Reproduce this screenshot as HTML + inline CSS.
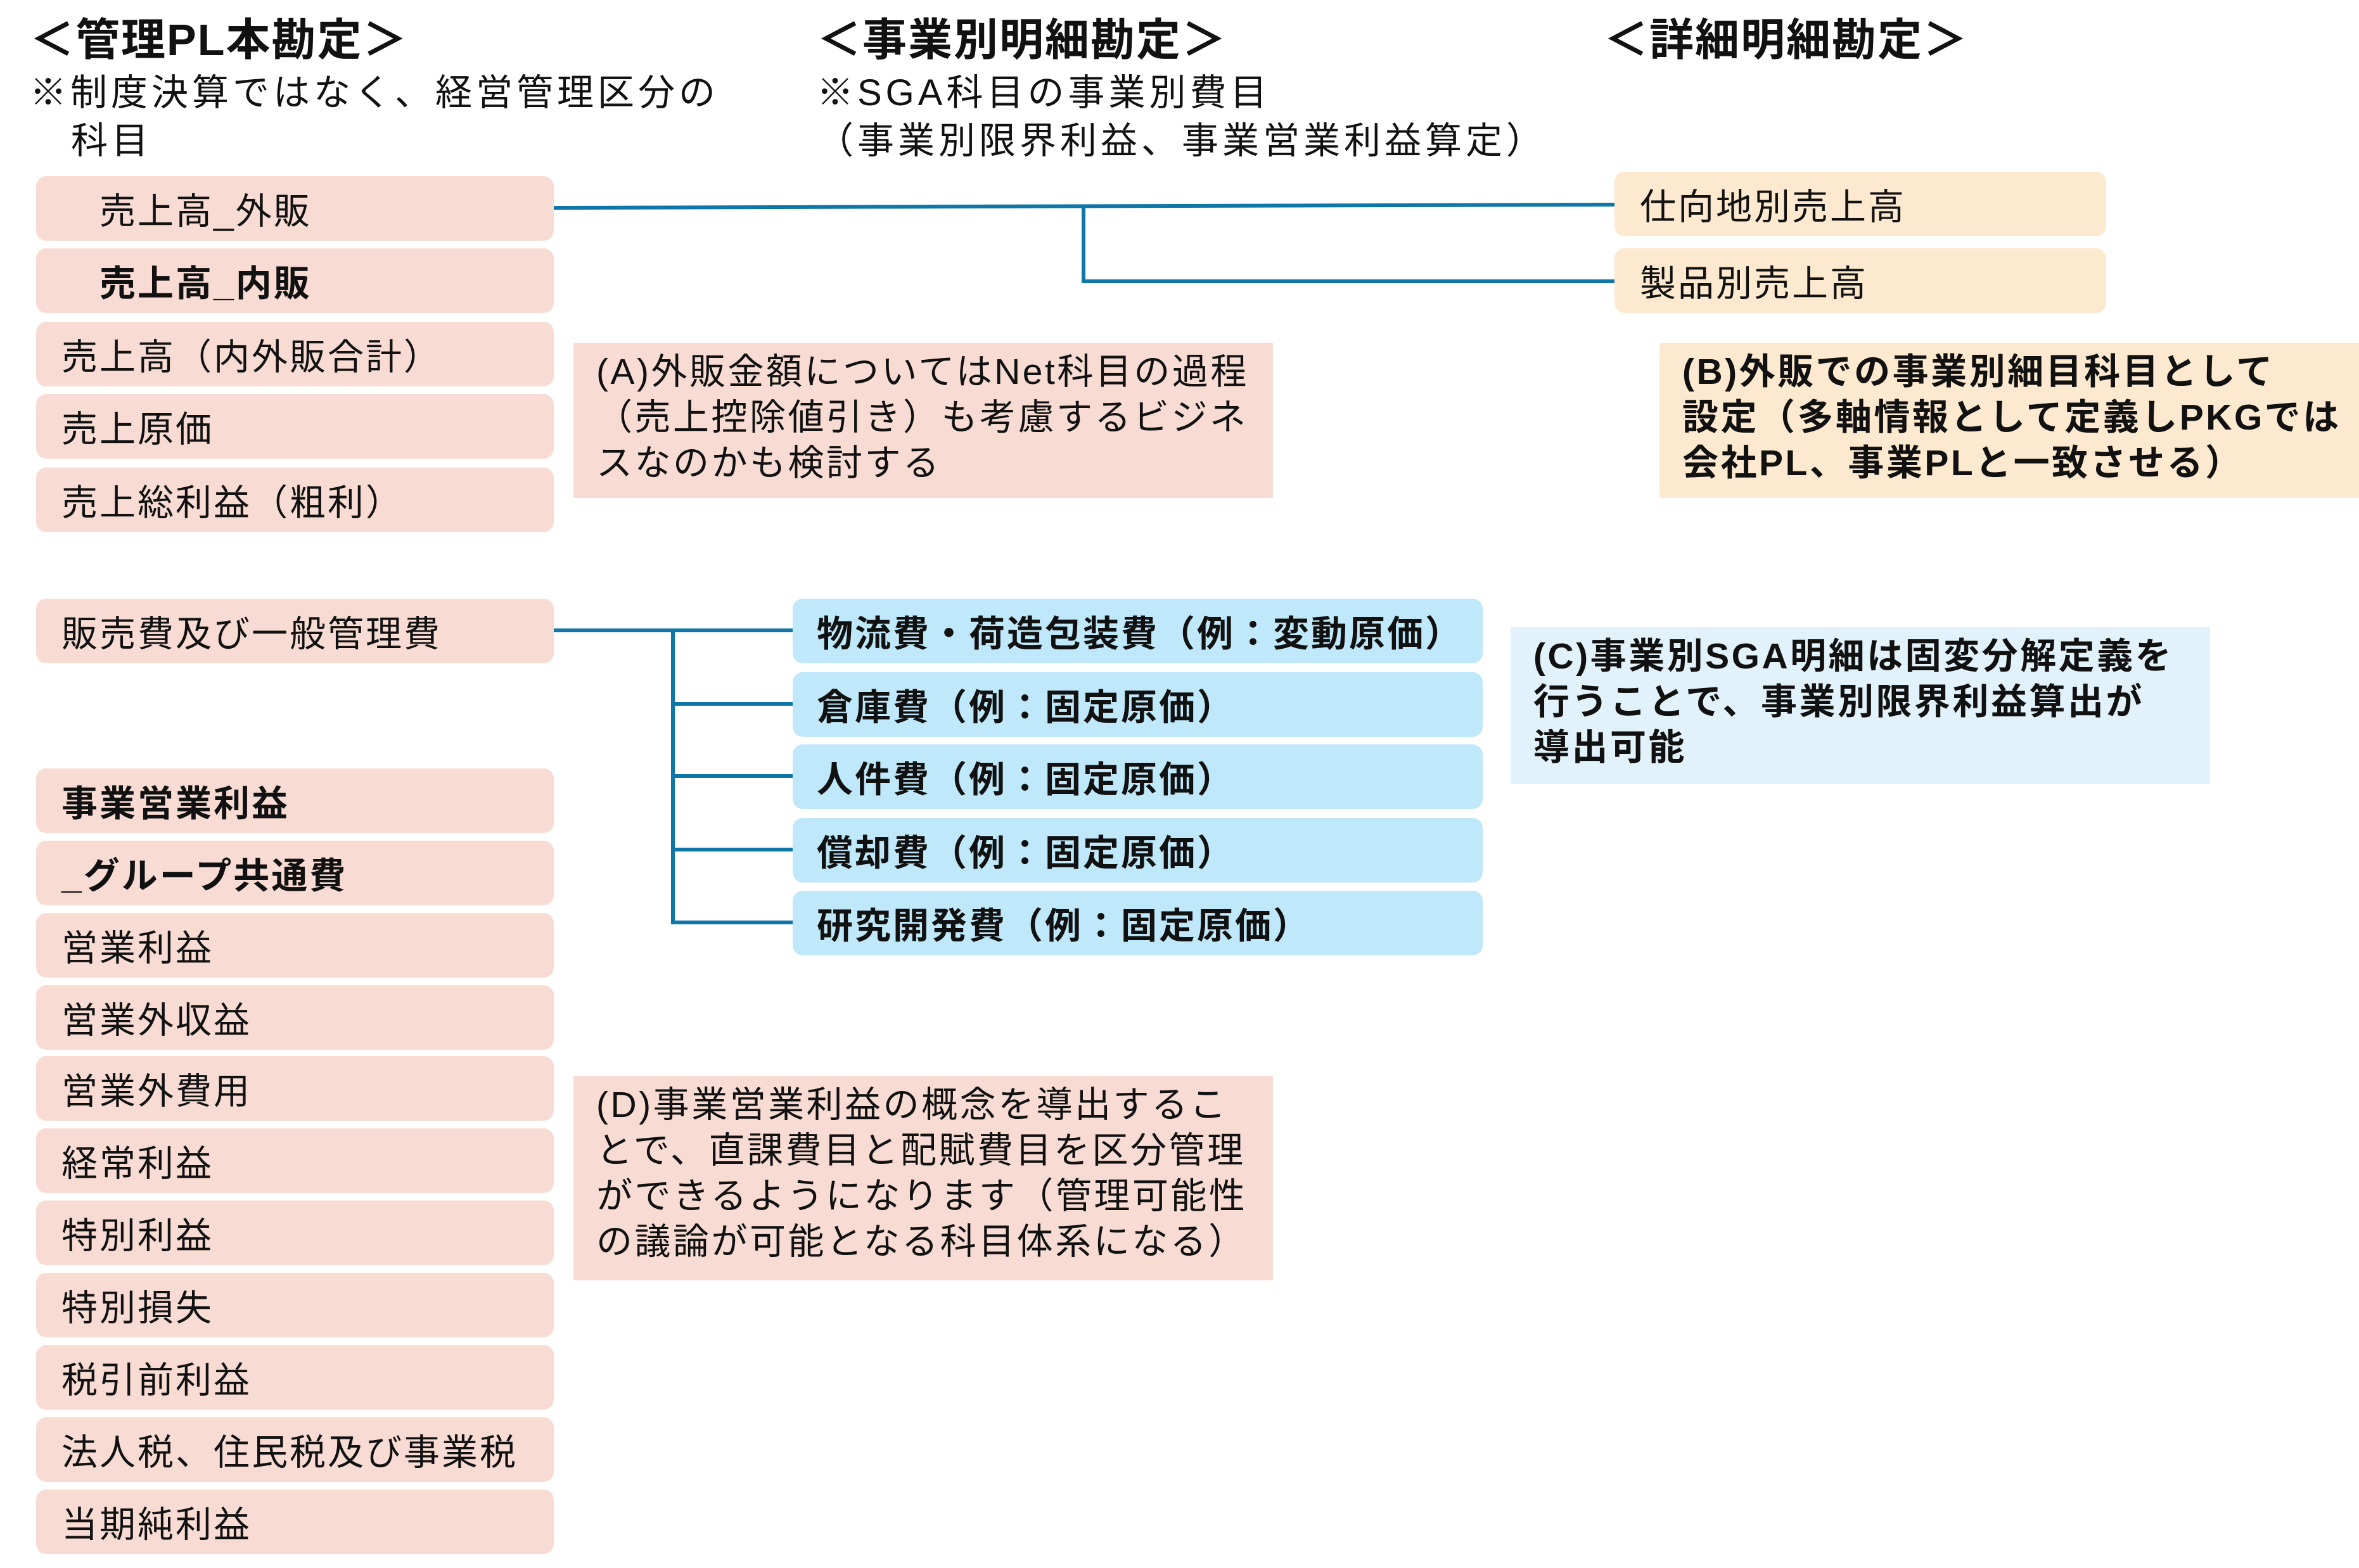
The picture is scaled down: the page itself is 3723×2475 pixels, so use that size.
<!DOCTYPE html>
<html><head><meta charset="utf-8"><style>
html,body{margin:0;padding:0;background:#fff;}
body{width:3723px;height:2475px;position:relative;overflow:hidden;font-family:"Liberation Sans","Noto Sans CJK JP",sans-serif;color:#111;}
.t{position:absolute;white-space:nowrap;line-height:1;}
.h{font-size:70px;font-weight:bold;letter-spacing:2px;}
.s{font-size:58px;letter-spacing:6px;}
.b{position:absolute;box-sizing:border-box;display:flex;align-items:center;border-radius:16px;font-size:57px;letter-spacing:3px;white-space:nowrap;}
.p{background:#f8dcd3;left:57px;width:817px;height:102px;padding-left:40px;}
.y{background:#fde9cf;left:2548px;width:776px;height:102px;padding-left:40px;}
.c{background:#bfe8fb;left:1251px;width:1089px;height:102px;padding-left:38px;font-weight:bold;}
.n{position:absolute;box-sizing:border-box;font-size:57px;letter-spacing:3.5px;line-height:72px;padding:10px 36px;white-space:nowrap;}
.bold{font-weight:bold;}
</style></head><body>
<div class="t h" style="left:47px;top:28px;">＜管理PL本勘定＞</div>
<div class="t s" style="left:47px;top:118px;">※制度決算ではなく、経営管理区分の</div>
<div class="t s" style="left:112px;top:194px;">科目</div>
<div class="t h" style="left:1289px;top:28px;">＜事業別明細勘定＞</div>
<div class="t s" style="left:1289px;top:118px;">※SGA科目の事業別費目</div>
<div class="t s" style="left:1289px;top:194px;">（事業別限界利益、事業営業利益算定）</div>
<div class="t h" style="left:2531px;top:28px;">＜詳細明細勘定＞</div>

<svg style="position:absolute;left:0;top:0" width="3723" height="2475">
<g stroke="#0f76a8" stroke-width="6" fill="none">
<line x1="874" y1="328" x2="2548" y2="323"/>
<polyline points="1710,327 1710,444 2548,444"/>
<line x1="874" y1="995" x2="1251" y2="995"/>
<line x1="1062" y1="995" x2="1062" y2="1456"/>
<line x1="1062" y1="1111" x2="1251" y2="1111"/>
<line x1="1062" y1="1225" x2="1251" y2="1225"/>
<line x1="1062" y1="1341" x2="1251" y2="1341"/>
<line x1="1059" y1="1456" x2="1251" y2="1456"/>
</g></svg>

<div class="b p" style="top:278px;padding-left:100px;">売上高_外販</div>
<div class="b p bold" style="top:392px;padding-left:100px;">売上高_内販</div>
<div class="b p" style="top:508px;">売上高（内外販合計）</div>
<div class="b p" style="top:622px;">売上原価</div>
<div class="b p" style="top:738px;">売上総利益（粗利）</div>
<div class="b p" style="top:945px;">販売費及び一般管理費</div>
<div class="b p bold" style="top:1213px;">事業営業利益</div>
<div class="b p bold" style="top:1327px;">_グループ共通費</div>
<div class="b p" style="top:1441px;">営業利益</div>
<div class="b p" style="top:1555px;">営業外収益</div>
<div class="b p" style="top:1667px;">営業外費用</div>
<div class="b p" style="top:1781px;">経常利益</div>
<div class="b p" style="top:1895px;">特別利益</div>
<div class="b p" style="top:2009px;">特別損失</div>
<div class="b p" style="top:2123px;">税引前利益</div>
<div class="b p" style="top:2237px;">法人税、住民税及び事業税</div>
<div class="b p" style="top:2351px;">当期純利益</div>

<div class="b y" style="top:271px;">仕向地別売上高</div>
<div class="b y" style="top:392px;">製品別売上高</div>

<div class="b c" style="top:945px;">物流費・荷造包装費（例：変動原価）</div>
<div class="b c" style="top:1061px;">倉庫費（例：固定原価）</div>
<div class="b c" style="top:1175px;">人件費（例：固定原価）</div>
<div class="b c" style="top:1291px;">償却費（例：固定原価）</div>
<div class="b c" style="top:1406px;">研究開発費（例：固定原価）</div>

<div class="n" style="left:905px;top:541px;width:1104px;height:245px;background:#f8dcd3;">(A)外販金額についてはNet科目の過程<br>（売上控除値引き）も考慮するビジネ<br>スなのかも検討する</div>
<div class="n bold" style="left:2619px;top:541px;width:1104px;height:245px;background:#fde9cf;">(B)外販での事業別細目科目として<br>設定（多軸情報として定義しPKGでは<br>会社PL、事業PLと一致させる）</div>
<div class="n bold" style="left:2384px;top:990px;width:1104px;height:247px;background:#e1f2fa;">(C)事業別SGA明細は固変分解定義を<br>行うことで、事業別限界利益算出が<br>導出可能</div>
<div class="n" style="left:905px;top:1698px;width:1104px;height:323px;background:#f8dcd3;">(D)事業営業利益の概念を導出するこ<br>とで、直課費目と配賦費目を区分管理<br>ができるようになります（管理可能性<br>の議論が可能となる科目体系になる）</div>
</body></html>
